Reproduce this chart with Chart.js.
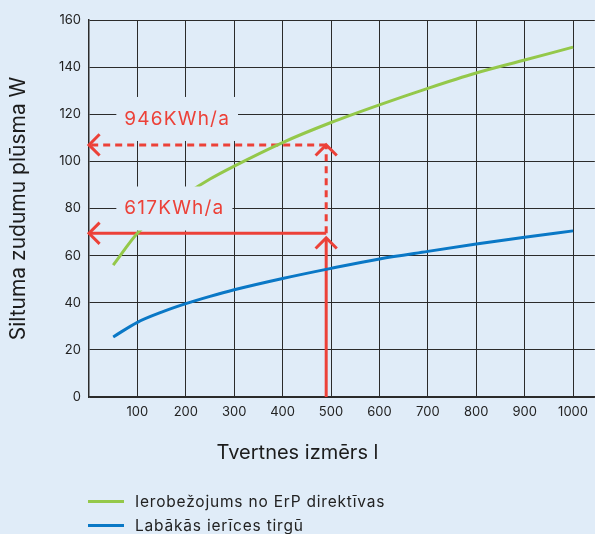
<!DOCTYPE html>
<html>
<head>
<meta charset="utf-8">
<script src="https://cdn.jsdelivr.net/npm/chart.js@4.4.1/dist/chart.umd.min.js"></script>
<style>
  html, body { margin: 0; padding: 0; background: #e0ecf8; }
  #wrap { position: relative; width: 595px; height: 534px; }
  #legend { position: absolute; left: 88px; top: 489px; font-family: Inter, sans-serif; font-size: 15.5px; letter-spacing: 0.8px; color: #222; }
  .legend-item { display: flex; align-items: center; height: 24px; }
  .legend-line { width: 36px; height: 3px; margin-right: 11px; }
</style>
</head>
<body>
<div id="wrap">
  <canvas id="chart" width="595" height="534"></canvas>
  <div id="legend"></div>
</div>
<script>
// Data
const tankSizes = [50, 100, 150, 200, 250, 300, 400, 500, 600, 700, 800, 900, 1000];
const erpLimit = [56, 69.5, 78.5, 86, 92.5, 98, 108, 116.5, 124, 131, 137.5, 143, 148.5];
const bestOnMarket = [25.5, 31.7, 36, 39.6, 42.7, 45.5, 50.3, 54.6, 58.6, 61.8, 64.9, 67.8, 70.5];
const xTickValues = [100, 200, 300, 400, 500, 600, 700, 800, 900, 1000];

// the marked example: a ~490 l tank
const markedVolume = 490;
const erpLevel = 107;       // 946KWh/a
const bestLevel = 69.5;     // 617KWh/a
const bestArrowTip = 67.5;
const energyLabels = ['946KWh/a', '617KWh/a'];
const energyLabelY = [118, 80];
const energyLabelX = 73;

const bg = '#e0ecf8';
const red = '#ec4138';
const green = '#94c84a';
const blue = '#0a78c6';
const gridColor = '#2b2b2b';
const fontFamily = 'Inter, sans-serif';

function toPoints(xs, ys) {
  return xs.map((x, i) => ({ x: x, y: ys[i] }));
}

// red arrow lines
function arrowLine(from, to, dashed) {
  return {
    label: '',
    data: [from, to],
    borderColor: red,
    borderWidth: 3,
    borderDash: dashed ? [7, 5] : [],
    pointRadius: 0,
    tension: 0,
    clip: false,
    arrow: true
  };
}

// Draws chevron heads at the end of every arrow dataset
const arrowHeads = {
  id: 'arrowHeads',
  afterDatasetsDraw(chart) {
    const ctx = chart.ctx;
    chart.data.datasets.forEach((ds, i) => {
      if (!ds.arrow) return;
      const pts = chart.getDatasetMeta(i).data;
      const tip = pts[pts.length - 1];
      const from = pts[pts.length - 2];
      const ang = Math.atan2(tip.y - from.y, tip.x - from.x);
      const len = 15;
      ctx.save();
      ctx.strokeStyle = ds.borderColor;
      ctx.lineWidth = ds.borderWidth;
      ctx.setLineDash([]);
      ctx.beginPath();
      ctx.moveTo(tip.x - len * Math.cos(ang - Math.PI / 4), tip.y - len * Math.sin(ang - Math.PI / 4));
      ctx.lineTo(tip.x, tip.y);
      ctx.lineTo(tip.x - len * Math.cos(ang + Math.PI / 4), tip.y - len * Math.sin(ang + Math.PI / 4));
      ctx.stroke();
      ctx.restore();
    });
  }
};

// Energy labels with a background box that hides the grid behind them
const energyLabelBoxes = {
  id: 'energyLabelBoxes',
  afterDatasetsDraw(chart) {
    const { ctx, scales: { x, y } } = chart;
    ctx.save();
    ctx.font = '19px ' + fontFamily;
    ctx.letterSpacing = '1.2px';
    ctx.textBaseline = 'middle';
    ctx.textAlign = 'left';
    energyLabels.forEach((text, i) => {
      const px = x.getPixelForValue(energyLabelX);
      const py = y.getPixelForValue(energyLabelY[i]);
      const w = ctx.measureText(text).width;
      ctx.fillStyle = bg;
      ctx.fillRect(px - 8, py - 22, w + 16, 44);
      ctx.fillStyle = red;
      ctx.fillText(text, px, py);
    });
    ctx.restore();
  }
};

const chart = new Chart(document.getElementById('chart'), {
  type: 'line',
  data: {
    datasets: [
      {
        label: 'Ierobežojums no ErP direktīvas',
        data: toPoints(tankSizes, erpLimit),
        borderColor: green,
        backgroundColor: green,
        borderWidth: 3,
        pointRadius: 0,
        cubicInterpolationMode: 'monotone'
      },
      {
        label: 'Labākās ierīces tirgū',
        data: toPoints(tankSizes, bestOnMarket),
        borderColor: blue,
        backgroundColor: blue,
        borderWidth: 3,
        pointRadius: 0,
        cubicInterpolationMode: 'monotone'
      },
      arrowLine({ x: markedVolume, y: bestLevel }, { x: 0, y: bestLevel }, false),
      arrowLine({ x: markedVolume, y: 0 }, { x: markedVolume, y: bestArrowTip }, false),
      arrowLine({ x: markedVolume, y: bestLevel }, { x: markedVolume, y: erpLevel }, true),
      arrowLine({ x: markedVolume, y: erpLevel }, { x: 0, y: erpLevel }, true)
    ]
  },
  options: {
    responsive: false,
    animation: false,
    layout: { padding: { top: 20, left: 0, right: 0, bottom: 69 } },
    plugins: {
      legend: { display: false },
      tooltip: { enabled: false },
      title: {
        display: true,
        text: 'Tvertnes izmērs l',
        position: 'bottom',
        color: '#1c1c1c',
        font: { family: fontFamily, size: 20, weight: 'normal' },
        padding: { top: 20, bottom: 0 }
      }
    },
    scales: {
      x: {
        type: 'linear',
        min: 0,
        max: 1045,
        grid: { color: gridColor, lineWidth: 1, drawTicks: false },
        border: { color: gridColor, width: 1.5 },
        ticks: {
          stepSize: 100,
          includeBounds: false,
          padding: 7,
          color: '#222',
          font: { family: fontFamily, size: 13 },
          callback: v => String(v)
        },
        afterBuildTicks(scale) {
          scale.ticks = xTickValues.map(v => ({ value: v }));
        },
        afterFit(scale) { scale.height = 24; }
      },
      y: {
        min: 0,
        max: 160,
        grid: { color: gridColor, lineWidth: 1, drawTicks: false },
        border: { color: gridColor, width: 1.5 },
        ticks: {
          stepSize: 20,
          padding: 8,
          color: '#222',
          font: { family: fontFamily, size: 13 }
        },
        title: {
          display: true,
          text: 'Siltuma zudumu plūsma W',
          color: '#1c1c1c',
          font: { family: fontFamily, size: 21, weight: 'normal' },
          padding: { top: 6, bottom: 0 }
        },
        afterFit(scale) { scale.width = 89; }
      }
    }
  },
  plugins: [arrowHeads, energyLabelBoxes]
});

// HTML legend built from the two curve datasets
const legendBox = document.getElementById('legend');
chart.data.datasets.filter(ds => !ds.arrow).forEach(ds => {
  const item = document.createElement('div');
  item.className = 'legend-item';
  const line = document.createElement('span');
  line.className = 'legend-line';
  line.style.background = ds.borderColor;
  const text = document.createElement('span');
  text.textContent = ds.label;
  item.appendChild(line);
  item.appendChild(text);
  legendBox.appendChild(item);
});
</script>
</body>
</html>
